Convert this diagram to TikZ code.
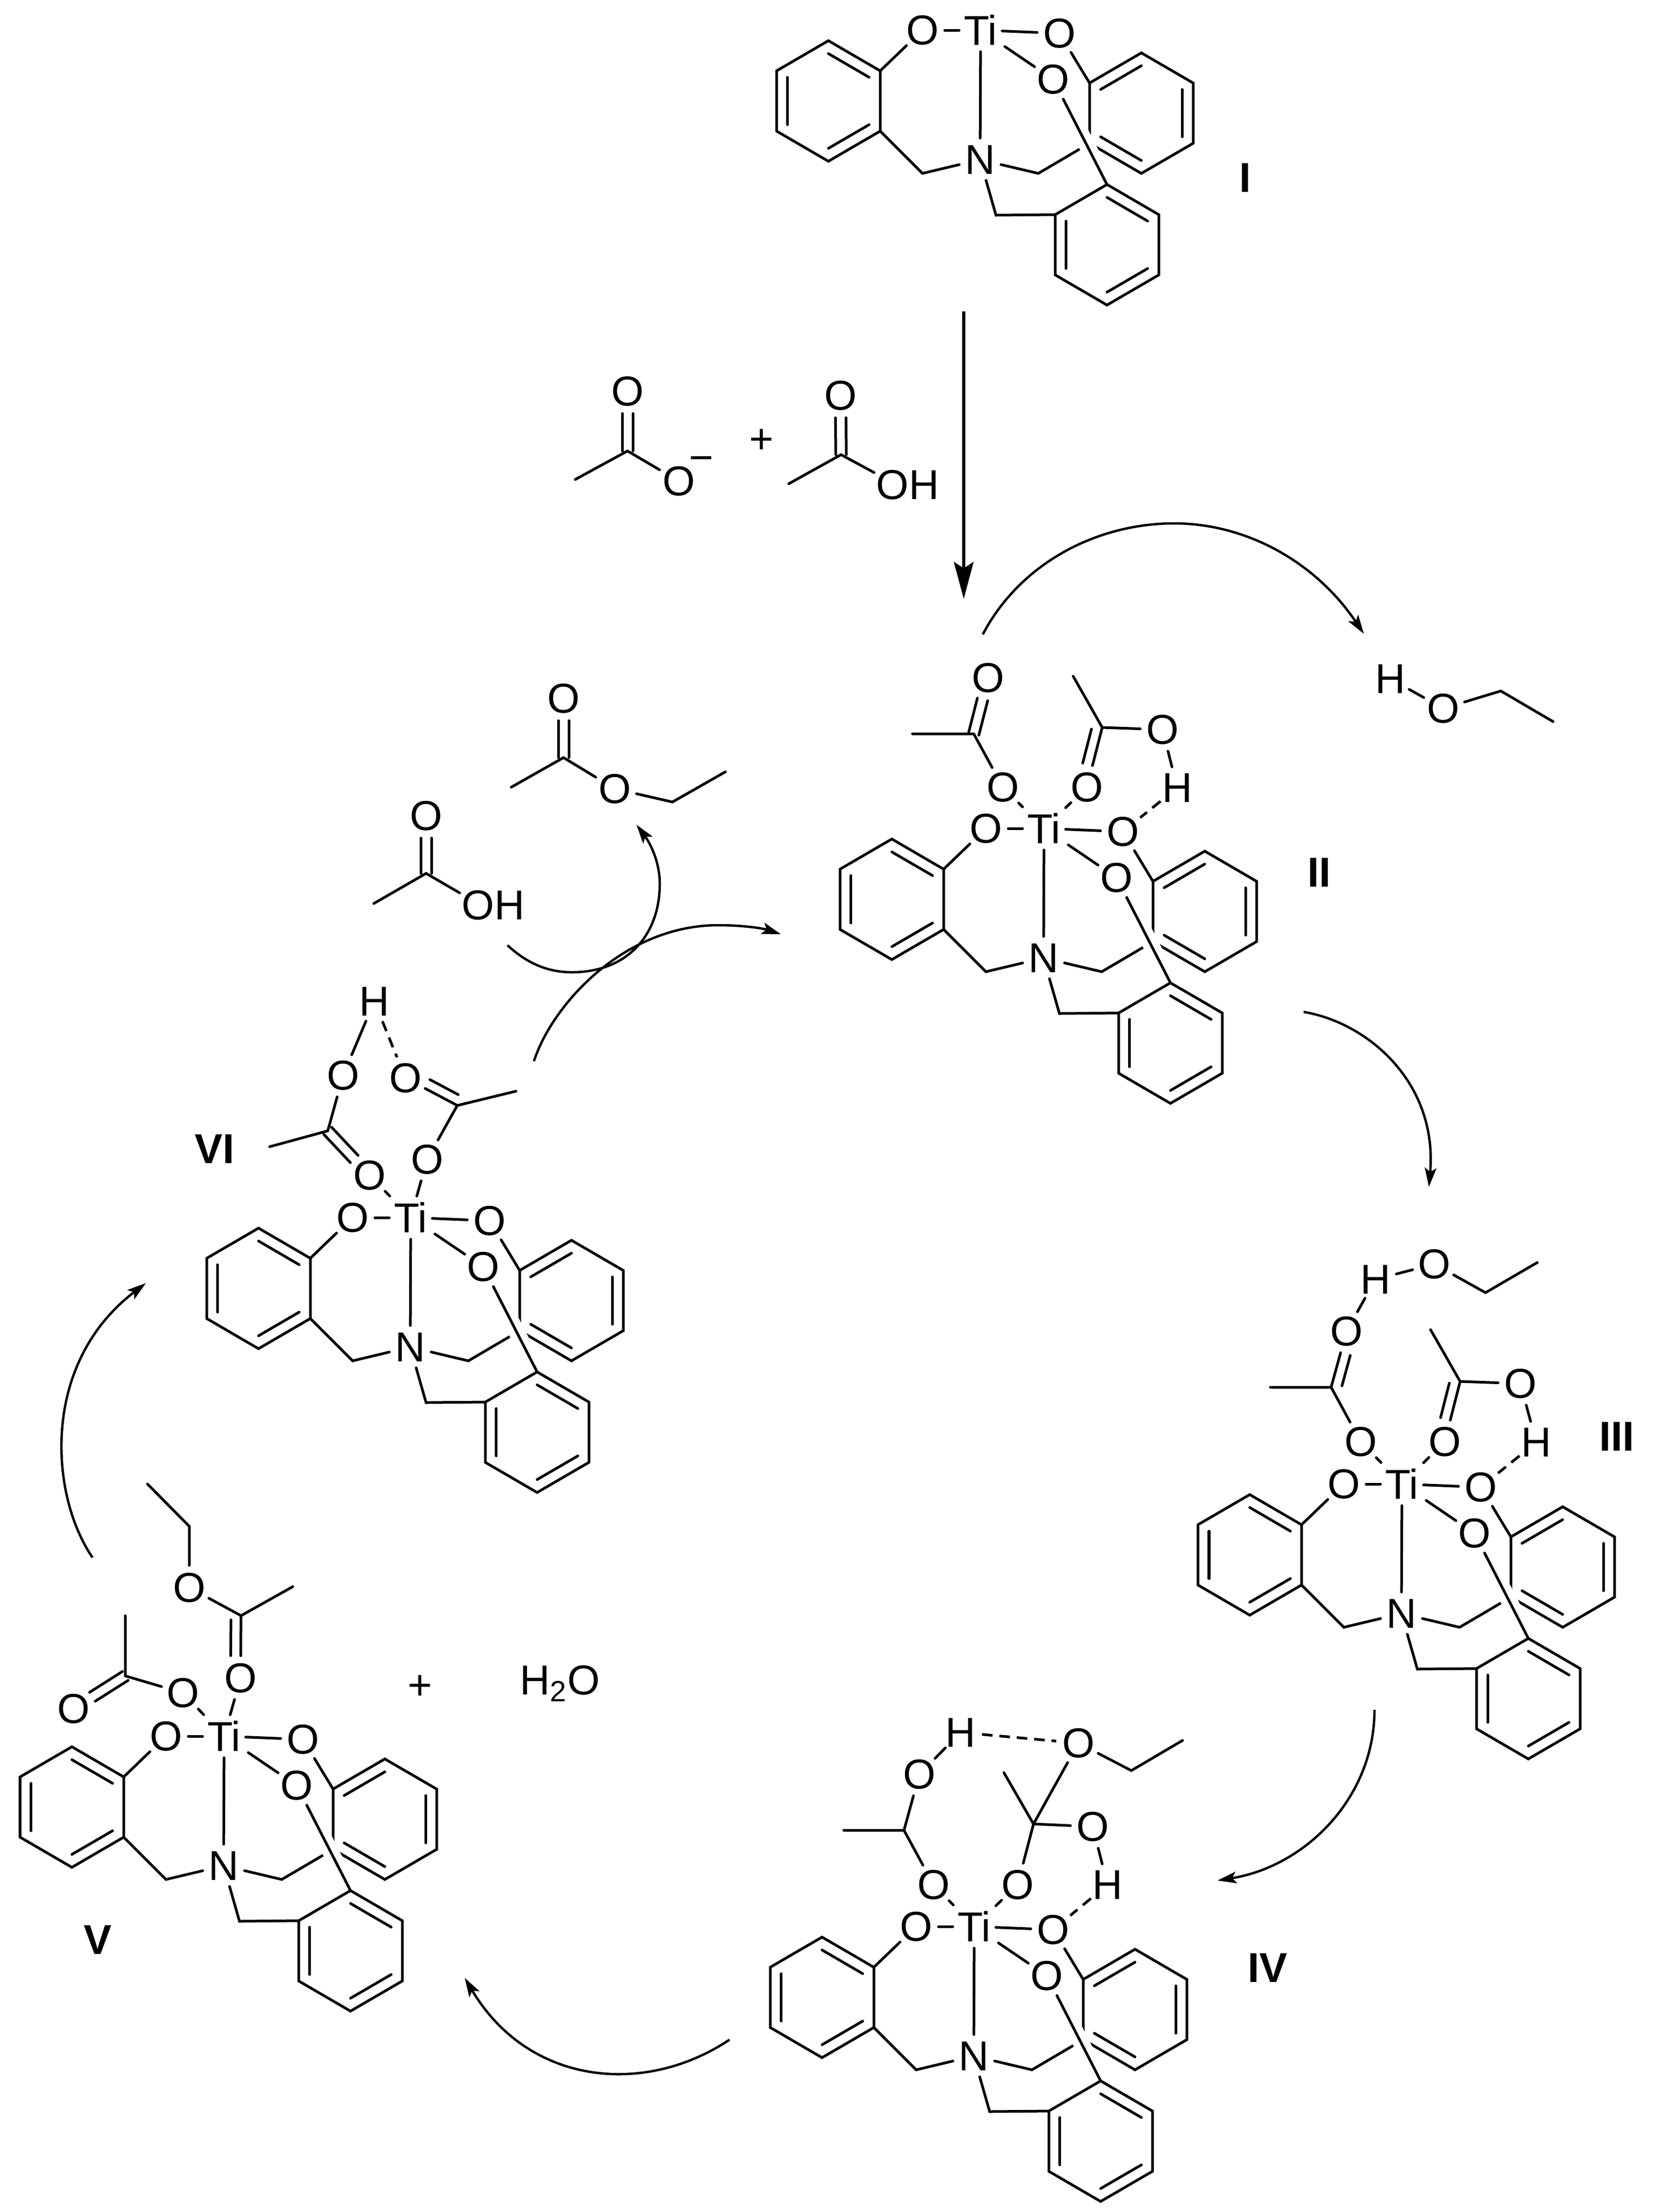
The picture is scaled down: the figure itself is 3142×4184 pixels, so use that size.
\documentclass[tikz,border=0pt]{standalone}
\usepackage{fontspec}
\setmainfont{Liberation Sans}
\usetikzlibrary{arrows.meta,calc}
\newcommand{\benzene}[4]{%
  \begin{scope}[shift={(#2,#3)}]
    \foreach \n/\x/\y in {1/0/-114,2/98/-57,3/98/57,4/0/114,5/-98/57,6/-98/-57} {
      \coordinate (#1\n) at (\x,\y);
      \coordinate (#1i\n) at (0.786*\x,0.786*\y);
    }
    \draw[bond,line cap=butt] (#11) -- (#12) -- (#13) -- (#14) -- (#15) -- (#16) -- cycle;
    \foreach \a/\b in {#4} \draw[bond] (#1i\a) -- (#1i\b);
  \end{scope}
}
\newcommand{\dbond}[5][0]{%
  \path (#2) -- (#3) coordinate[pos=0] (ds) coordinate[pos=1] (de);
  \draw[bond] ($(ds)!#4*0.01cm!90:(de)$) -- ($(de)!#4*0.01cm!-90:(ds)$);
  \draw[bond,shorten <=#1*0.01cm] ($(ds)!#5*0.01cm!90:(de)$) -- ($(de)!#5*0.01cm!-90:(ds)$);
}
\newcommand{\core}[3]{%
  \begin{scope}[shift={(#2,#3)}]
    \node[metal] (#1Ti) at (0,0) {Ti};
    \node[atom] (#1Oa) at (-110,0) {O};
    \node[atom] (#1Ob) at (149,6) {O};
    \node[atom] (#1Oc) at (137,93) {O};
    \node[atom] (#1N) at (-1,245) {N};
    \coordinate (#1Ca) at (-110,271);
    \coordinate (#1Cb) at (109,271);
    \coordinate (#1Cc) at (29,350);
    \benzene{#1A}{-288}{134}{1/2,3/4,5/6}
    \benzene{#1B}{304}{157}{6/1,2/3,5/4}
    \draw[bond] (#1Ti) -- (#1Oa);
    \draw[bond] (#1Ti) -- (#1Ob);
    \draw[bond] (#1Ti) -- (#1N);
    \draw[bond,shorten <=0.06cm] (#1Ti) -- (#1Oc);
    \draw[bond] (#1Oa) -- (#1A2);
    \draw[bond] (#1A3) -- (#1Ca) -- (#1N);
    \draw[bond] (#1Ob) -- (#1B6);
    \draw[bond] (#1N) -- (#1Cb) -- (#1B5);
    \benzene{#1C}{239}{406}{1/2,3/4,5/6}
    \draw[white,line width=0.31cm,shorten >=0.4cm] (#1Oc) -- (#1C1);
    \draw[bond] (#1Oc) -- (#1C1);
    \draw[bond] (#1N) -- (#1Cc) -- (#1C6);
  \end{scope}
}
\begin{document}
\begin{tikzpicture}[x=0.01cm,y=-0.01cm,
  atom/.style={circle,inner sep=0pt,minimum size=0.8cm,font=\fontsize{22.5}{27}\selectfont},
  metal/.style={atom,rectangle},
  group/.style={rectangle,inner sep=1pt,font=\fontsize{22.5}{27}\selectfont},
  tag/.style={font=\fontsize{22.5}{27}\selectfont\bfseries},
  bond/.style={line width=0.05cm,line cap=round},
  hbond/.style={line width=0.05cm,dash pattern=on 0.2cm off 0.13cm},
  rxn/.style={line width=0.045cm,-{Stealth[length=0.36cm,width=0.22cm,inset=0.08cm]}},
  feed/.style={line width=0.06cm,-{Stealth[length=0.7cm,width=0.37cm,inset=0.12cm]}}]
\useasboundingbox (0,0) rectangle (3142,4184);

% I
\core{one}{1855}{57}
\node[tag] (tagI) at (2355,336) {I};

% acetate + acid
\node[atom] (fbO) at (1187,740) {O};
\node[atom] (fbOm) at (1284,910) {O};
\node[atom] (fbMinus) at (1327,878) {−};
\coordinate (fbC) at (1187,853);
\coordinate (fbM) at (1088,907);
\draw[bond] (fbM) -- (fbC) -- (fbOm);
\dbond{fbC}{fbO}{10}{-10}
\node[atom] (plusA) at (1441,835) {+};
\node[atom] (faO) at (1590,748) {O};
\node[group] (faOH) at (1717,917) {OH};
\coordinate (faC) at (1591,860);
\coordinate (faM) at (1492,915);
\draw[bond] (faM) -- (faC) -- (faOH.160);
\dbond{faC}{faO}{10}{-10}
\coordinate (feedS) at (1823,589);
\coordinate (feedE) at (1823,1133);
\draw[feed] (feedS) -- (feedE);

% II
\core{two}{1975}{1567}
\node[atom] (twoOd) at (1897,1489) {O};
\node[atom] (twoOe) at (2056,1489) {O};
\node[atom] (twoOf) at (1869,1282) {O};
\node[atom] (twoOg) at (2199,1380) {O};
\node[atom] (twoH) at (2227,1490) {H};
\coordinate (twoCa) at (1842,1388);
\coordinate (twoMa) at (1726,1388);
\coordinate (twoCb) at (2085,1376);
\coordinate (twoMb) at (2030,1279);
\draw[bond] (twoTi) -- (twoOd) -- (twoCa) -- (twoMa);
\draw[bond] (twoTi) -- (twoOe);
\draw[bond] (twoMb) -- (twoCb) -- (twoOg) -- (twoH);
\dbond{twoCa}{twoOf}{10}{-10}
\dbond[8]{twoCb}{twoOe}{0}{-19}
\draw[hbond] (twoH) -- (twoOb);
\node[tag] (tagII) at (2495,1650) {II};

% ethanol
\node[atom] (etH) at (2630,1284) {H};
\node[atom] (etO) at (2730,1340) {O};
\coordinate (etC) at (2839,1307);
\coordinate (etM) at (2938,1365);
\draw[bond] (etH) -- (etO) -- (etC) -- (etM);
\coordinate (arrAs) at (1859,1200);
\coordinate (arrAe) at (2580,1199);
\draw[rxn] (arrAs) .. controls (1930,1065) and (2075,990) .. (2221,990) .. controls (2360,990) and (2490,1065) .. (arrAe);

% III
\coordinate (arrBs) at (2466,1914);
\coordinate (arrBe) at (2703,2245);
\draw[rxn] (arrBs) .. controls (2590,1935) and (2720,2050) .. (arrBe);
\core{thr}{2652}{2807}
\node[atom] (thrOd) at (2574,2727) {O};
\node[atom] (thrOe) at (2733,2727) {O};
\node[atom] (thrOf) at (2547,2518) {O};
\node[atom] (thrOg) at (2876,2617) {O};
\node[atom] (thrH) at (2906,2728) {H};
\node[atom] (thrHt) at (2602,2420) {H};
\node[atom] (thrOt) at (2713,2391) {O};
\coordinate (thrCa) at (2518,2624);
\coordinate (thrMa) at (2403,2624);
\coordinate (thrCb) at (2762,2613);
\coordinate (thrMb) at (2706,2515);
\coordinate (thrCe) at (2810,2445);
\coordinate (thrMe) at (2908,2388);
\draw[bond] (thrTi) -- (thrOd) -- (thrCa) -- (thrMa);
\draw[bond] (thrTi) -- (thrOe);
\draw[bond] (thrMb) -- (thrCb) -- (thrOg) -- (thrH);
\dbond[8]{thrCa}{thrOf}{0}{-19}
\dbond[8]{thrCb}{thrOe}{0}{-19}
\draw[hbond] (thrH) -- (thrOb);
\draw[bond] (thrOf) -- (thrHt) -- (thrOt) -- (thrCe) -- (thrMe);
\node[tag] (tagIII) at (3058,2717) {III};

% IV
\coordinate (arrCs) at (2600,3234);
\coordinate (arrCe) at (2303,3557);
\draw[rxn] (arrCs) .. controls (2600,3400) and (2470,3530) .. (arrCe);
\core{fou}{1843}{3644}
\node[atom] (fouOd) at (1766,3565) {O};
\node[atom] (fouOe) at (1925,3565) {O};
\node[atom] (fouOf) at (1739,3356) {O};
\node[atom] (fouOg) at (2067,3455) {O};
\node[atom] (fouH) at (2095,3565) {H};
\node[atom] (fouHt) at (1817,3277) {H};
\node[atom] (fouOt) at (2040,3297) {O};
\coordinate (fouCa) at (1710,3462);
\coordinate (fouMa) at (1596,3462);
\coordinate (fouCb) at (1955,3450);
\coordinate (fouMb) at (1899,3353);
\coordinate (fouCe) at (2140,3349);
\coordinate (fouMe) at (2237,3292);
\draw[bond] (fouTi) -- (fouOd) -- (fouCa) -- (fouMa);
\draw[bond] (fouCa) -- (fouOf) -- (fouHt);
\draw[bond] (fouTi) -- (fouOe) -- (fouCb) -- (fouMb);
\draw[bond] (fouCb) -- (fouOg) -- (fouH);
\draw[bond] (fouCb) -- (fouOt) -- (fouCe) -- (fouMe);
\draw[hbond] (fouH) -- (fouOb);
\draw[hbond] (fouHt) -- (fouOt);
\node[tag] (tagIV) at (2398,3722) {IV};

% V
\coordinate (arrDs) at (1380,3858);
\coordinate (arrDe) at (879,3741);
\draw[rxn] (arrDs) .. controls (1220,3965) and (1000,3945) .. (arrDe);
\core{fiv}{424}{3284}
\node[atom] (fivOd) at (346,3202) {O};
\node[atom] (fivOe) at (455,3174) {O};
\node[atom] (fivOf) at (139,3232) {O};
\node[atom] (fivOt) at (358,3003) {O};
\coordinate (fivCa) at (237,3170);
\coordinate (fivMa) at (237,3056);
\coordinate (fivCb) at (456,3056);
\coordinate (fivMb) at (554,3001);
\coordinate (fivCe) at (358,2887);
\coordinate (fivMe) at (279,2807);
\draw[bond] (fivTi) -- (fivOd) -- (fivCa) -- (fivMa);
\draw[bond] (fivTi) -- (fivOe);
\dbond{fivCa}{fivOf}{10}{-10}
\dbond[8]{fivCb}{fivOe}{0}{-19}
\draw[bond] (fivMb) -- (fivCb) -- (fivOt) -- (fivCe) -- (fivMe);
\node[tag] (tagV) at (185,3669) {V};
\node[atom] (plusB) at (795,3192) {+};
\node[group,anchor=base] (water) at (1059,3205) {H\textsubscript{2}O};

% VI
\coordinate (arrEs) at (175,2946);
\coordinate (arrEe) at (276,2427);
\draw[rxn] (arrEs) .. controls (95,2830) and (75,2580) .. (arrEe);
\core{six}{777}{2303}
\node[atom] (sixOd) at (699,2223) {O};
\node[atom] (sixOe) at (808,2193) {O};
\node[atom] (sixOf) at (649,2034) {O};
\node[atom] (sixOg) at (767,2039) {O};
\node[atom] (sixH) at (708,1894) {H};
\coordinate (sixCa) at (620,2139);
\coordinate (sixMa) at (510,2169);
\coordinate (sixCb) at (865,2091);
\coordinate (sixMb) at (976,2064);
\draw[bond] (sixTi) -- (sixOd);
\draw[bond] (sixTi) -- (sixOe) -- (sixCb) -- (sixMb);
\dbond{sixCa}{sixOd}{10}{-10}
\dbond[8]{sixCb}{sixOg}{0}{-19}
\draw[bond] (sixMa) -- (sixCa) -- (sixOf) -- (sixH);
\draw[hbond] (sixH) -- (sixOg);
\node[tag] (tagVI) at (406,2173) {VI};

% ester + acid
\node[atom] (eaO) at (1066,1321) {O};
\node[atom] (eaOs) at (1163,1492) {O};
\coordinate (eaC) at (1066,1433);
\coordinate (eaM) at (967,1489);
\coordinate (eaCe) at (1272,1517);
\coordinate (eaMe) at (1372,1460);
\draw[bond] (eaM) -- (eaC) -- (eaOs) -- (eaCe) -- (eaMe);
\dbond{eaC}{eaO}{10}{-10}
\node[atom] (fcO) at (806,1543) {O};
\node[group] (fcOH) at (933,1712) {OH};
\coordinate (fcC) at (806,1652);
\coordinate (fcM) at (707,1709);
\draw[bond] (fcM) -- (fcC) -- (fcOH.160);
\dbond{fcC}{fcO}{10}{-10}
\coordinate (arrFs) at (960,1788);
\coordinate (arrFe) at (1204,1560);
\draw[rxn] (arrFs) .. controls (1000,1825) and (1040,1839) .. (1082,1839) .. controls (1185,1839) and (1248,1770) .. (1248,1672) .. controls (1248,1630) and (1230,1595) .. (arrFe);
\coordinate (arrGs) at (1010,2007);
\coordinate (arrGe) at (1477,1767);
\draw[rxn] (arrGs) .. controls (1045,1900) and (1180,1750) .. (1359,1750) .. controls (1400,1750) and (1440,1755) .. (arrGe);
\end{tikzpicture}
\end{document}
